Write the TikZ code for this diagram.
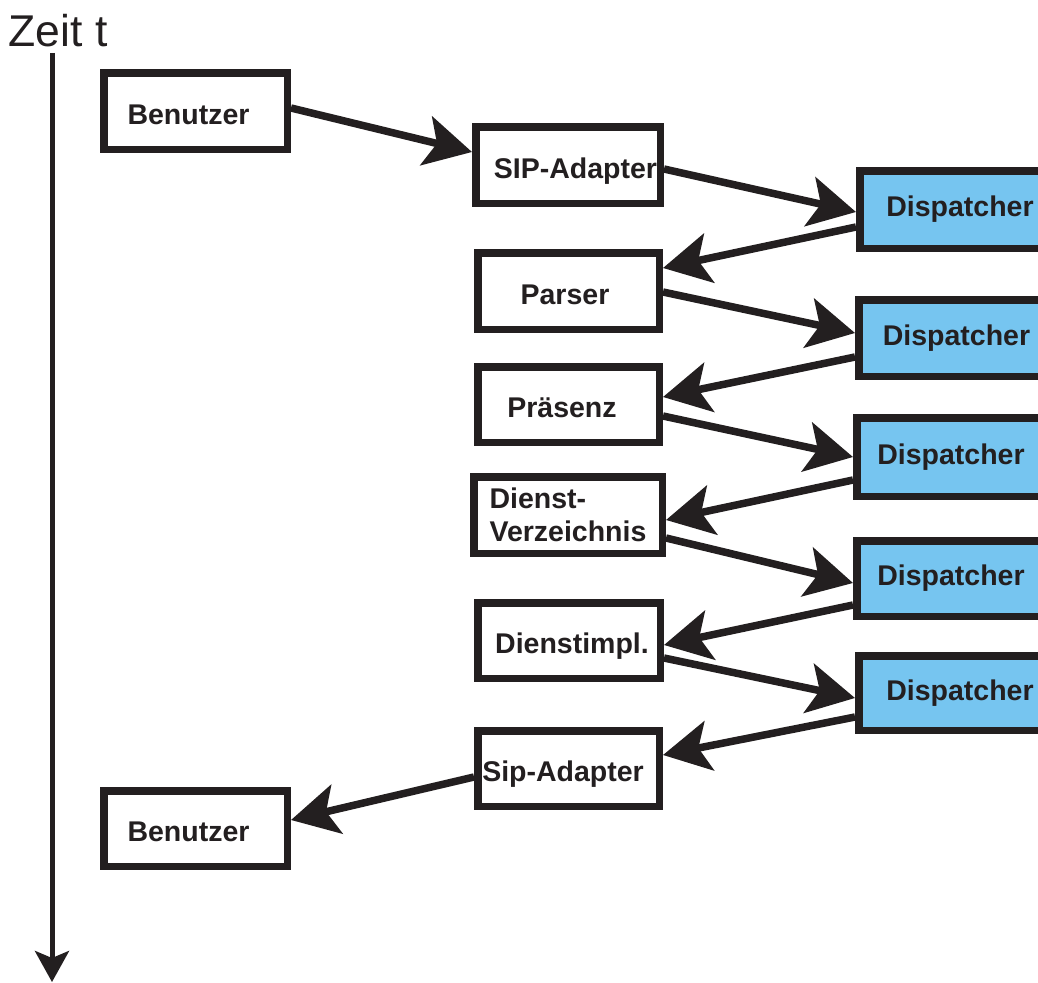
\documentclass[tikz,border=0pt]{standalone}
\usepackage{fontspec}
\setmainfont{Liberation Sans}
\usetikzlibrary{arrows.meta,calc}
\definecolor{ink}{RGB}{35,31,32}
\definecolor{dblue}{RGB}{118,197,240}
\tikzset{
  basebox/.style={draw=ink, line width=7.5pt, fill=white, inner sep=0pt,
    font=\bfseries\fontsize{28.5}{33}\selectfont, text=ink},
  wbox/.style={basebox, text height=30pt, text depth=4pt},
  dbox/.style={basebox, fill=dblue, text height=20pt, text depth=6pt},
  flow/.style={draw=ink, line width=7.5pt,
    -{Stealth[length=47pt,width=50pt,inset=11pt]}},
  timeaxis/.style={draw=ink, line width=5pt,
    -{Stealth[length=31pt,width=34pt,inset=7pt]}},
}
\begin{document}
\begin{tikzpicture}[x=1pt,y=-1pt]
\useasboundingbox (0,0) rectangle (1038,982);
\clip (0,0) rectangle (1038,982);
% time axis
\node[anchor=base west, inner sep=0pt, font=\fontsize{44.5}{48}\selectfont, text=ink] (zeit) at (8.5,47) {Zeit t};
\coordinate (axtop) at (52,53);
\coordinate (axbot) at (52,982);
\draw[timeaxis] (axtop) -- (axbot);
% left column
\node[wbox, minimum width=183.5pt, minimum height=76.5pt] (ben1) at (195.5,111) {Benutzer\hspace*{14pt}};
\node[wbox, minimum width=183.5pt, minimum height=75.5pt] (ben2) at (195.5,828.5) {Benutzer\hspace*{14pt}};
% middle column
\node[wbox, minimum width=184.5pt, minimum height=76.5pt] (sip1) at (568,165) {\hspace*{15pt}SIP-Adapter};
\node[wbox, minimum width=181.5pt, minimum height=76.5pt] (parser) at (568.5,291) {Parser\hspace*{7pt}};
\node[wbox, minimum width=181.5pt, minimum height=75.5pt] (praes) at (568.5,404.5) {Präsenz\hspace*{13pt}};
\node[basebox, minimum width=188.5pt, minimum height=76.5pt, align=left] (dv) at (568,515) {Dienst-\\Verzeichnis};
\node[wbox, minimum width=182.5pt, minimum height=75.5pt] (dimpl) at (569,640.5) {\hspace*{6pt}Dienstimpl.};
\node[wbox, minimum width=181.5pt, minimum height=75.5pt] (sip2) at (568.5,768.5) {Sip-Adapter\hspace*{11pt}};
% dispatchers
\node[dbox, minimum width=200.5pt, minimum height=77.5pt] (d1) at (960,209.5) {Dispatcher};
\node[dbox, minimum width=195.5pt, minimum height=76.5pt] (d2) at (956.5,338) {Dispatcher};
\node[dbox, minimum width=188.5pt, minimum height=78.5pt] (d3) at (951,457) {Dispatcher};
\node[dbox, minimum width=188.5pt, minimum height=75.5pt] (d4) at (951,578.5) {Dispatcher};
\node[dbox, minimum width=202.5pt, minimum height=74.5pt] (d5) at (960,693) {Dispatcher};
% flows
\draw[flow] ($(ben1.east)+(0,-3)$) -- ($(sip1.west)+(0,-13)$);
\draw[flow] ($(sip1.east)+(0,4)$) -- ($(d1.west)+(0,2.5)$);
\draw[flow] ($(d1.west)+(0,17.5)$) -- ($(parser.east)+(0,-23)$);
\draw[flow] ($(parser.east)+(0,1)$) -- ($(d2.west)+(0,-5)$);
\draw[flow] ($(d2.west)+(0,19)$) -- ($(praes.east)+(0,-7.5)$);
\draw[flow] ($(praes.east)+(0,11.5)$) -- ($(d3.west)+(0,0)$);
\draw[flow] ($(d3.west)+(0,23)$) -- ($(dv.east)+(0,5)$);
\draw[flow] ($(dv.east)+(0,23)$) -- ($(d4.west)+(0,4.5)$);
\draw[flow] ($(d4.west)+(0,26.5)$) -- ($(dimpl.east)+(0,4.5)$);
\draw[flow] ($(dimpl.east)+(0,17.5)$) -- ($(d5.west)+(0,5)$);
\draw[flow] ($(d5.west)+(0,24)$) -- ($(sip2.east)+(0,-13.5)$);
\draw[flow] ($(sip2.west)+(0,8.5)$) -- ($(ben2.east)+(0,-8.5)$);
\end{tikzpicture}
\end{document}
